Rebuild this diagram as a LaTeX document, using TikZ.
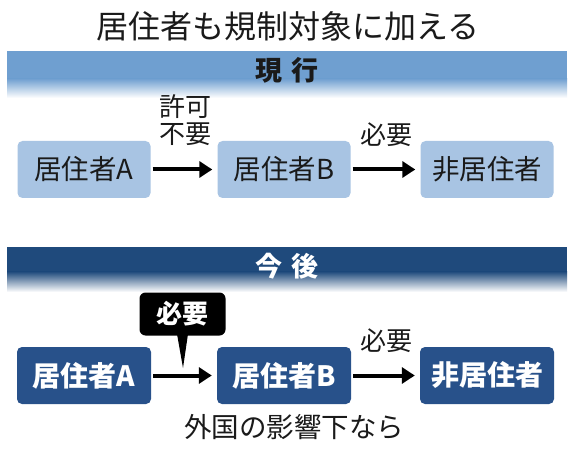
\documentclass[tikz,border=0pt]{standalone}
\usepackage{fontspec}
\setmainfont{Noto Sans CJK JP}
\usetikzlibrary{arrows.meta}
\definecolor{lightbanner}{HTML}{6F9FD0}
\definecolor{darkbanner}{HTML}{1F4A7C}
\definecolor{lightbox}{HTML}{A8C4E3}
\definecolor{darkbox}{HTML}{28518A}
\definecolor{ink}{HTML}{1A1A1A}
\tikzset{
  lbox/.style={fill=lightbox, rounded corners=5pt, minimum width=133pt, minimum height=57pt, inner sep=0pt, text=ink, font=\fontsize{27.5}{27.5}\selectfont},
  dbox/.style={fill=darkbox, rounded corners=5pt, minimum width=134pt, minimum height=57pt, inner sep=0pt, text=white, font=\bfseries\fontsize{28}{28}\selectfont},
  conn/.style={line width=4pt, -{Triangle[length=13pt,width=16pt]}, shorten <=2pt, shorten >=5pt},
  lbl/.style={text=ink, inner sep=0pt, font=\fontsize{26}{26}\selectfont},
  bannertext/.style={inner sep=0pt, font=\bfseries\fontsize{27}{27}\selectfont}
}
\begin{document}
\begin{tikzpicture}[x=1pt,y=-1pt]
\useasboundingbox (0,0) rectangle (572,454);
\fill[white] (0,0) rectangle (572,454);
% title
\node[text=ink, inner sep=0pt, font=\fontsize{32}{32}\selectfont] (title) at (288,26) {居住者も規制対象に加える};
% banner 1
\fill[lightbanner] (7,51) rectangle (567,79);
\shade[top color=lightbanner, bottom color=white] (7,78.5) rectangle (567,98);
\node[bannertext, text=ink] (cur) at (287,70) {現\hspace{0.35em}行};
% banner 2
\fill[darkbanner] (7,247) rectangle (567,272);
\shade[top color=darkbanner, bottom color=white] (7,271.5) rectangle (567,292);
\node[bannertext, text=white] (fut) at (287,266) {今\hspace{0.35em}後};
% row 1
\node[lbox] (a1) at (84,169.5) {居住者A};
\node[lbox] (b1) at (284,169.5) {居住者B};
\node[lbox] (c1) at (487,169.5) {非居住者};
\draw[conn] (a1) -- (b1);
\draw[conn] (b1) -- (c1);
\node[lbl] (l1a) at (185,107) {許可};
\node[lbl] (l1b) at (185,134) {不要};
\node[lbl] (l1c) at (386,135) {必要};
% row 2
\node[dbox] (a2) at (84,375.5) {居住者A};
\node[dbox] (b2) at (284,375.5) {居住者B};
\node[dbox] (c2) at (487,375.5) {非居住者};
\draw[conn] (a2) -- (b2);
\draw[conn] (b2) -- (c2);
\node[lbl] (l2c) at (386,341) {必要};
% callout
\fill[black] (177,334) -- (188,334) -- (183,368) -- cycle;
\node[fill=black, rounded corners=6pt, minimum width=86pt, minimum height=43pt, inner sep=0pt, text=white, font=\bfseries\fontsize{26}{26}\selectfont] (call) at (182.5,314) {必要};
% note
\node[lbl, font=\fontsize{27.5}{27.5}\selectfont] (note) at (294,427) {外国の影響下なら};
\end{tikzpicture}
\end{document}
